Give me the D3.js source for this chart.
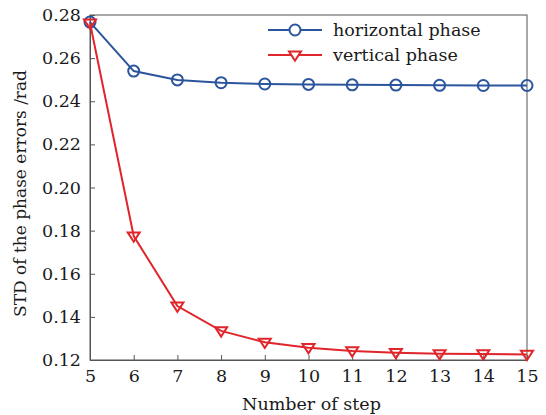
<!DOCTYPE html>
<html><head><meta charset="utf-8">
<script src="https://cdn.jsdelivr.net/npm/d3@7"></script>
<style>body{margin:0;background:#fff}svg{display:block}text{font-family:"DejaVu Serif",serif;fill:#1a1a1a}</style>
</head><body><svg id="c" width="546" height="415"></svg>
<script>
const steps = [5,6,7,8,9,10,11,12,13,14,15];
const horizontal = [0.2767,0.2540,0.2499,0.2486,0.2480,0.2478,0.2476,0.2475,0.2474,0.2473,0.2473];
const vertical = [0.2763,0.1775,0.1450,0.1335,0.1282,0.1257,0.1242,0.1234,0.1229,0.1228,0.1226];
const yTicks = [0.12,0.14,0.16,0.18,0.20,0.22,0.24,0.26,0.28];
const seriesNames = ["horizontal phase","vertical phase"];
const colors = ["#2b559c","#e0252b"];

const svg = d3.select("#c");
const L=90,R=527,T=15,B=360;
const x = d3.scaleLinear().domain([5,15]).range([L,R]);
const y = d3.scaleLinear().domain([0.12,0.28]).range([B,T]);

svg.append("rect").attr("x",L).attr("y",T).attr("width",R-L).attr("height",B-T)
  .attr("fill","none").attr("stroke","#555").attr("stroke-width",1);

const xa = svg.append("g").attr("transform",`translate(0,${B})`)
  .call(d3.axisBottom(x).tickValues(steps).tickFormat(d3.format("d")).tickSizeInner(-5).tickSizeOuter(0).tickPadding(10));
const ya = svg.append("g").attr("transform",`translate(${L},0)`)
  .call(d3.axisLeft(y).tickValues(yTicks).tickFormat(d3.format(".2f")).tickSizeInner(-5).tickSizeOuter(0).tickPadding(9));
[xa,ya].forEach(a=>{a.select(".domain").attr("stroke","#555");a.selectAll("line").attr("stroke","#555");
  a.selectAll("text").style("font-family",'"DejaVu Serif",serif').style("font-size","17.5px").attr("fill","#1a1a1a");});

svg.append("text").attr("x",(L+R)/2+3).attr("y",410).attr("text-anchor","middle").style("font-size","17.5px").text("Number of step");
svg.append("text").attr("transform",`translate(26,${(T+B)/2+6}) rotate(-90)`).attr("text-anchor","middle").style("font-size","17px").text("STD of the phase errors /rad");

const line = d3.line().x((d,i)=>x(steps[i])).y(d=>y(d));
const tri = (cx,cy,s)=>`M${cx-s},${cy-s*0.6}L${cx+s},${cy-s*0.6}L${cx},${cy+s*0.95}Z`;

[horizontal,vertical].forEach((vals,k)=>{
  svg.append("path").attr("d",line(vals)).attr("fill","none").attr("stroke",colors[k]).attr("stroke-width",2);
  const g = svg.append("g");
  vals.forEach((v,i)=>{
    if(k===0) g.append("circle").attr("cx",x(steps[i])).attr("cy",y(v)).attr("r",5.5).attr("fill","none").attr("stroke",colors[k]).attr("stroke-width",2);
    else g.append("path").attr("d",tri(x(steps[i]),y(v),6)).attr("fill","none").attr("stroke",colors[k]).attr("stroke-width",2);
  });
});

// legend
seriesNames.forEach((n,k)=>{
  const ly = 30 + k*25;
  svg.append("line").attr("x1",268).attr("x2",322).attr("y1",ly).attr("y2",ly).attr("stroke",colors[k]).attr("stroke-width",2);
  if(k===0) svg.append("circle").attr("cx",295).attr("cy",ly).attr("r",5.5).attr("fill","#fff").attr("stroke",colors[k]).attr("stroke-width",2);
  else svg.append("path").attr("d",tri(295,ly,6)).attr("fill","#fff").attr("stroke",colors[k]).attr("stroke-width",2);
  svg.append("text").attr("x",333).attr("y",ly+6).style("font-size","17.5px").text(n);
});
</script></body></html>
